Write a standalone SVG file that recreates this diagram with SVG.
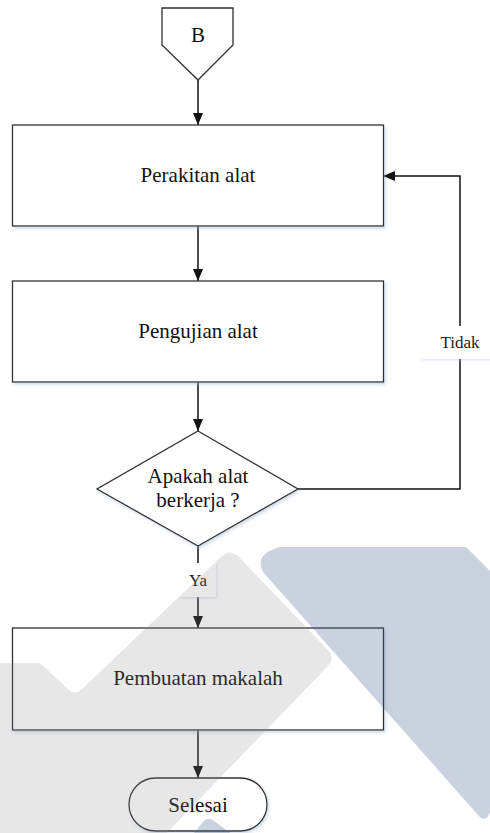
<svg xmlns="http://www.w3.org/2000/svg" width="490" height="833" viewBox="0 0 490 833">
<defs>
<style>
.box{fill:#fff;stroke:#303030;stroke-width:1.3;filter:url(#sh)}
.lbl{fill:#fff;stroke:none;filter:url(#sh2)}
.t{font-size:21px;fill:#111;text-anchor:middle}
.ts{font-size:17px;fill:#222;text-anchor:middle}
.c{fill:none;stroke:#111;stroke-width:1.5}
</style>
<filter id="sh" x="-5%" y="-5%" width="115%" height="120%">
<feDropShadow dx="1.5" dy="2" stdDeviation="1.5" flood-color="#9fb3d1" flood-opacity="0.45"/>
</filter>
<filter id="sh2" x="-20%" y="-20%" width="140%" height="140%">
<feDropShadow dx="1" dy="1.5" stdDeviation="1.2" flood-color="#a9bad4" flood-opacity="0.4"/>
</filter>
<marker id="ah" viewBox="0 0 12 10" refX="12" refY="5" markerWidth="12" markerHeight="10" markerUnits="userSpaceOnUse" orient="auto">
<path d="M0,0 L12,5 L0,10 Z" fill="#111"/>
</marker>
</defs>
<rect width="490" height="833" fill="#fff"/>

<g id="connectors">
<line class="c" x1="198" y1="80" x2="198" y2="125" marker-end="url(#ah)"/>
<line class="c" x1="198" y1="226" x2="198" y2="281" marker-end="url(#ah)"/>
<line class="c" x1="198" y1="382" x2="198" y2="431" marker-end="url(#ah)"/>
<polyline class="c" points="298,489 460,489 460,176 383,176" marker-end="url(#ah)"/>
<line class="c" x1="198" y1="546" x2="198" y2="628" marker-end="url(#ah)"/>
<line class="c" x1="198" y1="730" x2="198" y2="778" marker-end="url(#ah)"/>
</g>

<g font-family="Liberation Serif, Tinos, DejaVu Serif, serif">
<g id="node-b">
<path d="M162,8 L233,8 L233,45 L198,80 L162,45 Z" fill="#fff" stroke="#303030" stroke-width="1.3"/>
<text class="t" x="198" y="42">B</text>
</g>
<g id="node-perakitan">
<rect class="box" x="12.5" y="125" width="371" height="101"/>
<text class="t" x="198" y="182">Perakitan alat</text>
</g>
<g id="node-pengujian">
<rect class="box" x="12.5" y="281" width="371" height="101"/>
<text class="t" x="198" y="338">Pengujian alat</text>
</g>
<g id="node-decision">
<path class="box" d="M198,431 L298,489 L198,546 L97,489 Z"/>
<text class="t" x="198" y="483">Apakah alat</text>
<text class="t" x="198" y="507">berkerja ?</text>
</g>
<g id="label-tidak">
<rect class="lbl" x="421" y="326" width="80" height="33"/>
<text class="ts" x="460" y="348">Tidak</text>
</g>
<g id="label-ya">
<rect class="lbl" x="180" y="563" width="36" height="34"/>
<text class="ts" x="198" y="586">Ya</text>
</g>
<g id="node-pembuatan">
<rect class="box" x="12.5" y="628" width="371" height="102"/>
<text class="t" x="198" y="685">Pembuatan makalah</text>
</g>
<g id="node-selesai">
<rect class="box" x="129" y="778" width="138" height="53" rx="26.5"/>
<text class="t" x="198" y="812">Selesai</text>
</g>
</g>

<g id="watermark">
<path d="M0,663 L40,663 L68,689 Q75,696 82,689 L222,556 Q230,549 238,556 L328,650 Q335,658 328,666 L160,840 L0,840 Z" fill="#888" opacity="0.2"/>
<path d="M280,547 L466,547 L490,571 L490,812 Q486,824 478,815 L263,572 Q254,554 280,547 Z" fill="#3f598a" opacity="0.27"/>
<path d="M188,840 L203,822 Q208,816 214,821 L240,840 Z" fill="#3f598a" opacity="0.27"/>
</g>
</svg>
